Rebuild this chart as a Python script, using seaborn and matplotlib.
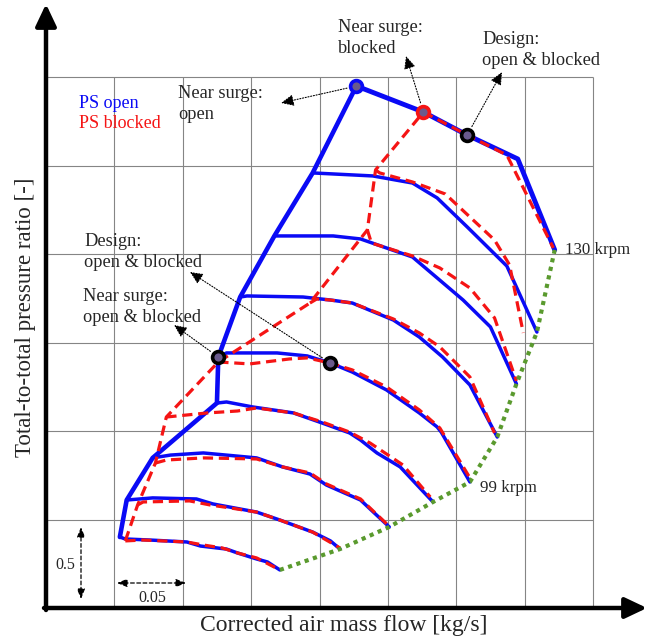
import matplotlib
matplotlib.use("Agg")
import matplotlib.pyplot as plt
import numpy as np
import pandas as pd
import seaborn as sns

# Corrected air mass flow [kg/s] and total-to-total pressure ratio [-] along each
# speed line, from the surge side to the choke side, lowest speed first.
open_1_flow = [0.054, 0.058, 0.076, 0.103, 0.113, 0.132, 0.140, 0.154, 0.162, 0.171]
open_1_pr = [1.401, 1.390, 1.384, 1.373, 1.350, 1.333, 1.311, 1.277, 1.260, 1.215]
blocked_1_flow = [0.058, 0.071, 0.103, 0.115, 0.129, 0.140, 0.154, 0.164, 0.171]
blocked_1_pr = [1.379, 1.384, 1.373, 1.356, 1.339, 1.311, 1.283, 1.243, 1.215]

open_2_flow = [0.059, 0.078, 0.110, 0.122, 0.154, 0.171, 0.195, 0.208, 0.215]
open_2_pr = [1.610, 1.622, 1.616, 1.588, 1.542, 1.497, 1.429, 1.379, 1.333]
blocked_2_flow = [0.067, 0.071, 0.105, 0.120, 0.135, 0.154, 0.171, 0.195, 0.215]
blocked_2_pr = [1.582, 1.599, 1.605, 1.582, 1.565, 1.542, 1.497, 1.429, 1.339]

open_3_flow = [0.078, 0.091, 0.115, 0.154, 0.173, 0.193, 0.205, 0.230, 0.251]
open_3_pr = [1.848, 1.864, 1.876, 1.848, 1.797, 1.757, 1.695, 1.610, 1.458]
blocked_3_flow = [0.080, 0.088, 0.115, 0.154, 0.173, 0.193, 0.205, 0.230, 0.250]
blocked_3_pr = [1.819, 1.836, 1.848, 1.842, 1.797, 1.763, 1.701, 1.616, 1.469]

open_4_flow = [0.125, 0.132, 0.151, 0.181, 0.202, 0.222, 0.230, 0.242, 0.259, 0.283]
open_4_pr = [2.158, 2.164, 2.136, 2.102, 2.045, 1.989, 1.949, 1.876, 1.797, 1.599]
blocked_4_flow = [0.088, 0.118, 0.140, 0.154, 0.181, 0.202, 0.222, 0.237, 0.261, 0.281]
blocked_4_pr = [2.079, 2.102, 2.113, 2.130, 2.102, 2.051, 1.994, 1.932, 1.808, 1.627]

open_5_flow = [0.126, 0.132, 0.169, 0.191, 0.208, 0.224, 0.249, 0.273, 0.286, 0.289, 0.310]
open_5_pr = [2.418, 2.441, 2.441, 2.424, 2.384, 2.333, 2.232, 2.102, 2.023, 1.994, 1.712]
blocked_5_flow = [0.126, 0.149, 0.178, 0.191, 0.208, 0.224, 0.249, 0.273, 0.288, 0.310]
blocked_5_pr = [2.390, 2.379, 2.407, 2.413, 2.384, 2.345, 2.249, 2.119, 2.017, 1.735]

open_6_flow = [0.142, 0.147, 0.188, 0.208, 0.224, 0.254, 0.273, 0.290, 0.310, 0.330]
open_6_pr = [2.757, 2.763, 2.757, 2.740, 2.723, 2.627, 2.531, 2.418, 2.260, 1.966]
blocked_6_flow = [0.193, 0.198, 0.208, 0.224, 0.254, 0.273, 0.288, 0.310, 0.328]
blocked_6_pr = [2.723, 2.746, 2.740, 2.723, 2.633, 2.554, 2.475, 2.305, 1.989]

open_7_flow = [0.167, 0.210, 0.230, 0.268, 0.286, 0.305, 0.325, 0.344]
open_7_pr = [3.102, 3.102, 3.085, 2.983, 2.865, 2.740, 2.588, 2.266]
blocked_7_flow = [0.235, 0.238, 0.268, 0.288, 0.310, 0.328, 0.344]
blocked_7_pr = [3.136, 3.062, 2.989, 2.921, 2.808, 2.639, 2.283]

open_8_flow = [0.195, 0.239, 0.268, 0.286, 0.308, 0.337, 0.359]
open_8_pr = [3.458, 3.441, 3.401, 3.317, 3.153, 2.932, 2.559]
blocked_8_flow = [0.241, 0.244, 0.268, 0.292, 0.310, 0.328, 0.339, 0.349]
blocked_8_pr = [3.475, 3.458, 3.407, 3.339, 3.209, 3.079, 2.938, 2.554]

open_9_flow = [0.227, 0.276, 0.308, 0.345, 0.372]
open_9_pr = [3.949, 3.802, 3.672, 3.537, 3.023]
blocked_9_flow = [0.276, 0.308, 0.337, 0.371]
blocked_9_pr = [3.802, 3.672, 3.559, 3.034]

# Operating points: near surge (open), near surge (blocked), design (top line),
# near surge (both), design (both) on the 99 krpm line
point_flow = [0.227, 0.276, 0.308, 0.126, 0.208]
point_pr = [3.949, 3.802, 3.672, 2.418, 2.384]

speed_label_text = ["99 krpm", "130 krpm"]

open_lines = [(open_1_flow, open_1_pr), (open_2_flow, open_2_pr), (open_3_flow, open_3_pr),
              (open_4_flow, open_4_pr), (open_5_flow, open_5_pr), (open_6_flow, open_6_pr),
              (open_7_flow, open_7_pr), (open_8_flow, open_8_pr), (open_9_flow, open_9_pr)]
blocked_lines = [(blocked_1_flow, blocked_1_pr), (blocked_2_flow, blocked_2_pr),
                 (blocked_3_flow, blocked_3_pr), (blocked_4_flow, blocked_4_pr),
                 (blocked_5_flow, blocked_5_pr), (blocked_6_flow, blocked_6_pr),
                 (blocked_7_flow, blocked_7_pr), (blocked_8_flow, blocked_8_pr),
                 (blocked_9_flow, blocked_9_pr)]


def to_frame(lines):
    parts = [pd.DataFrame({"flow": f, "pr": p, "line": i})
             for i, (f, p) in enumerate(lines, start=1)]
    return pd.concat(parts, ignore_index=True)


df_open = to_frame(open_lines)
df_blocked = to_frame(blocked_lines)

surge_open = df_open.groupby("line").first().reset_index()
surge_blocked = df_blocked.groupby("line").first().reset_index()
choke = df_open.groupby("line").last().reset_index()

BLUE = "#0a0af5"
RED = "#f51414"
GREEN = "#5a9a2e"
GRID = "#858585"

sns.set_theme(style="white")
plt.rcParams["font.family"] = ["Liberation Serif", "DejaVu Serif"]

W, H = 652, 641
fig = plt.figure(figsize=(W / 100, H / 100), dpi=100)
ax = fig.add_axes([0, 0, 1, 1])

# one grid cell is 0.05 kg/s wide and 0.5 pressure ratio high
SX = 0.05 / 68.375
SY = 0.5 / 88.5
ax.set_xlim(-46 * SX, (W - 46) * SX)
ax.set_ylim(1 - (H - 608) * SY, 1 + 608 * SY)
ax.axis("off")


def at(px, py):
    """Position given in pixels from the top-left corner, as data coordinates."""
    return (px - 46) * SX, 1 + (608 - py) * SY


# grid
ax.vlines(np.arange(0.05, 0.401, 0.05), 1.0, 4.0, color=GRID, lw=0.8, zorder=1)
ax.hlines(np.arange(1.5, 4.01, 0.5), 0.0, 0.40, color=GRID, lw=0.8, zorder=1)

# PS open: speed lines and surge line
sns.lineplot(data=df_open[df_open["line"] < 9], x="flow", y="pr", units="line",
             estimator=None, sort=False, color=BLUE, lw=2.5, ax=ax, legend=False, zorder=2)
sns.lineplot(data=df_open[df_open["line"] == 9], x="flow", y="pr",
             estimator=None, sort=False, color=BLUE, lw=3.5, ax=ax, legend=False, zorder=2)
sns.lineplot(data=surge_open, x="flow", y="pr", estimator=None, sort=False,
             color=BLUE, lw=3.3, ax=ax, legend=False, zorder=2)

# PS blocked: speed lines and surge line
sns.lineplot(data=df_blocked, x="flow", y="pr", units="line", estimator=None, sort=False,
             color=RED, lw=2.3, linestyle=(0, (3.2, 1.8)), ax=ax, legend=False, zorder=3)
sns.lineplot(data=surge_blocked, x="flow", y="pr", estimator=None, sort=False,
             color=RED, lw=2.3, linestyle=(0, (3.2, 1.8)), ax=ax, legend=False, zorder=3)

# choke line
sns.lineplot(data=choke, x="flow", y="pr", estimator=None, sort=False, color=GREEN,
             lw=3.0, linestyle=(0, (1, 1.1)), dash_capstyle="butt", ax=ax,
             legend=False, zorder=4)

# operating points
edge_colors = [BLUE, RED, "black", "black", "black"]
for f, p, ec in zip(point_flow, point_pr, edge_colors):
    ax.plot([f], [p], marker="o", ms=8.5, mew=2.6, mec=ec, mfc="#6a5a8c", zorder=6)

# axes drawn as arrows
axis_arrow = dict(arrowstyle="-|>,head_length=0.95,head_width=0.45", lw=3.2,
                  color="black", shrinkA=0, shrinkB=0, mutation_scale=14)
ax.annotate("", xy=at(647, 608), xytext=at(44, 608), arrowprops=axis_arrow, zorder=7)
ax.annotate("", xy=at(46, 4), xytext=at(46, 610), arrowprops=axis_arrow, zorder=7)

# axis titles
ax.text(*at(344, 626), "Corrected air mass flow [kg/s]", fontsize=17,
        ha="center", va="center")
ax.text(*at(26, 317), "Total-to-total pressure ratio [-]", fontsize=16.5,
        rotation=90, ha="center", va="center")

# legend text
ax.text(*at(79, 103), "PS open", color=BLUE, fontsize=13, va="center")
ax.text(*at(79, 123), "PS blocked", color=RED, fontsize=13, va="center")

# callouts
note_kw = dict(fontsize=13.2, va="center", ha="left", linespacing=1.25)
arrow_kw = dict(arrowstyle="-|>,head_length=0.55,head_width=0.25", lw=0.8, ls=(0, (1, 1.5)),
                color="black", mutation_scale=14)
notes = [
    ("Near surge:\nopen", (178, 104), (281, 103), 0),
    ("Near surge:\nblocked", (338, 38), (406, 56), 1),
    ("Design:\nopen & blocked", (482, 50), (502, 72), 2),
    ("Design:\nopen & blocked", (84, 252), (190, 272), 4),
    ("Near surge:\nopen & blocked", (83, 307), (174, 325), 3),
]
for text, (tx, ty), (hx, hy), k in notes:
    ax.text(*at(tx, ty), text, **note_kw)
    ax.annotate("", xy=at(hx, hy), xytext=(point_flow[k], point_pr[k]),
                arrowprops=dict(arrow_kw, shrinkA=7, shrinkB=0), zorder=5)

# speed labels
ax.text(choke["flow"].iloc[4] + 10 * SX, choke["pr"].iloc[4] - 6 * SY, speed_label_text[0],
        fontsize=12.2, va="center", ha="left")
ax.text(choke["flow"].iloc[8] + 10 * SX, choke["pr"].iloc[8], speed_label_text[1],
        fontsize=12.2, va="center", ha="left")

# scale bars
bar_kw = dict(arrowstyle="<|-|>,head_length=0.5,head_width=0.2", lw=0.9, ls=(0, (3, 2)),
              color="black", shrinkA=0, shrinkB=0, mutation_scale=12)
ax.annotate("", xy=at(81, 527), xytext=at(81, 599), arrowprops=bar_kw)
ax.text(*at(65, 565), "0.5", fontsize=11.5, ha="center", va="center")
ax.annotate("", xy=at(117, 583), xytext=at(186, 583), arrowprops=bar_kw)
ax.text(*at(152, 598), "0.05", fontsize=11.5, ha="center", va="center")

fig.savefig("out.png", dpi=100)
